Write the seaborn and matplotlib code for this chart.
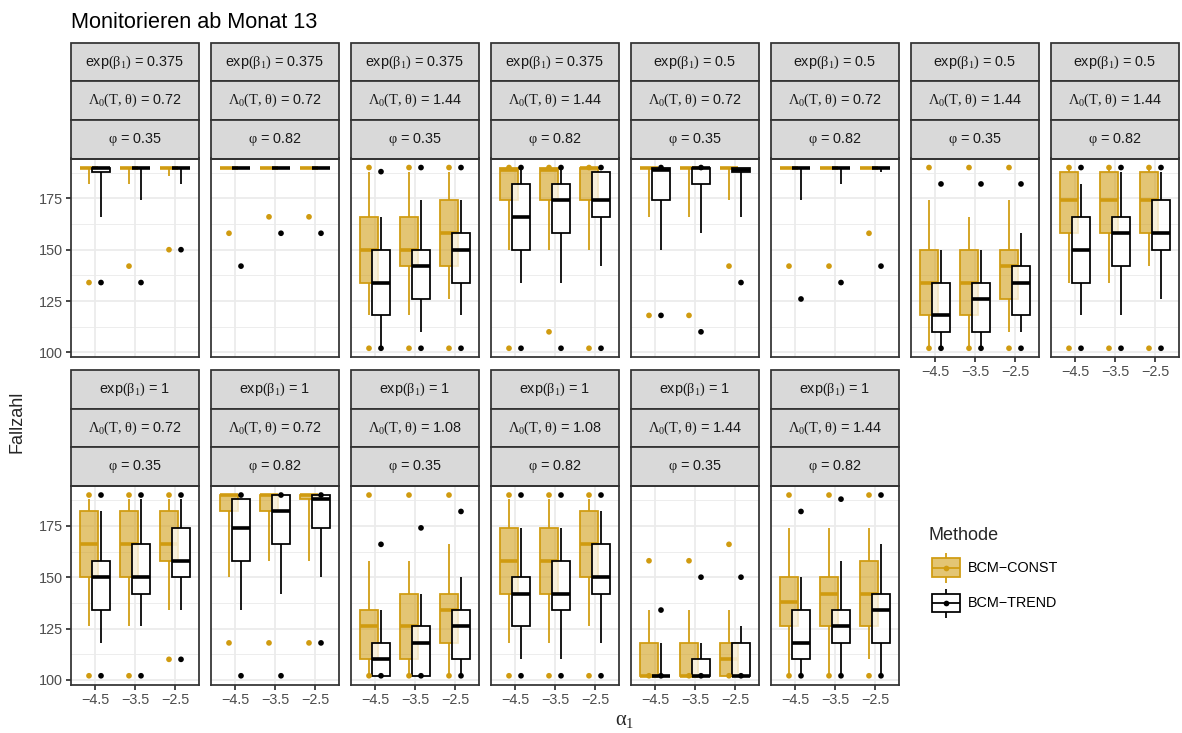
import numpy as np
import pandas as pd
import matplotlib
matplotlib.use("Agg")
import matplotlib.pyplot as plt
from matplotlib.patches import Rectangle
from matplotlib.colors import to_rgba
import seaborn as sns

# ---------------------------------------------------------------- data
ALPHA_LABELS = ["\u22124.5", "\u22123.5", "\u22122.5"]
METHODS = ["BCM\u2212CONST", "BCM\u2212TREND"]

EXP_BETA = ["0.375"] * 4 + ["0.5"] * 4 + ["1"] * 6
LAMBDA0 = ["0.72", "0.72", "1.44", "1.44", "0.72", "0.72", "1.44", "1.44",
           "0.72", "0.72", "1.08", "1.08", "1.44", "1.44"]
PHI = ["0.35", "0.82"] * 7

# box statistics per panel (14) and alpha level (3): lower whisker, Q1, median, Q3, upper whisker
CONST_LO = [[182, 182, 186], [190, 190, 190], [118, 118, 126], [150, 150, 150],
            [166, 166, 174], [190, 190, 190], [103, 103, 110], [134, 134, 142],
            [126, 126, 134], [150, 158, 158], [103, 103, 103], [118, 118, 126],
            [102, 102, 102], [103, 103, 110]]
CONST_Q1 = [[190, 190, 190], [190, 190, 190], [134, 142, 142], [174, 174, 174],
            [190, 190, 190], [190, 190, 190], [118, 118, 126], [158, 158, 158],
            [150, 150, 158], [182, 182, 188], [110, 110, 118], [142, 142, 150],
            [102, 102, 102], [126, 126, 126]]
CONST_MED = [[190, 190, 190], [190, 190, 190], [150, 150, 158], [189, 189, 190],
             [190, 190, 190], [190, 190, 190], [134, 134, 142], [174, 174, 174],
             [166, 166, 166], [190, 190, 190], [126, 126, 134], [158, 158, 166],
             [102, 102, 110], [138, 142, 142]]
CONST_Q3 = [[190, 190, 190], [190, 190, 190], [166, 166, 174], [190, 190, 190],
            [190, 190, 190], [190, 190, 190], [150, 150, 150], [188, 188, 188],
            [182, 182, 182], [190, 190, 190], [134, 142, 142], [174, 174, 182],
            [118, 118, 118], [150, 150, 158]]
CONST_HI = [[190, 190, 190], [190, 190, 190], [188, 188, 188], [190, 190, 190],
            [190, 190, 190], [190, 190, 190], [174, 166, 174], [190, 190, 190],
            [188, 188, 188], [190, 190, 190], [158, 158, 166], [188, 188, 188],
            [134, 134, 134], [174, 174, 174]]
CONST_POINTS = [[[134], [142], [150]], [[158], [166], [166]],
                [[102, 190], [102, 190], [102, 190]], [[102, 190], [110, 190], [102, 190]],
                [[118], [118], [142]], [[142], [142], [158]],
                [[102, 190], [102, 190], [102, 190]], [[102, 190], [102, 190], [102, 190]],
                [[102, 190], [102, 190], [110, 190]], [[118], [118], [118]],
                [[102, 190], [102, 190], [102, 190]], [[102, 190], [102, 190], [102, 190]],
                [[102, 158], [102, 158], [102, 166]], [[102, 190], [102, 190], [102, 190]]]

TREND_LO = [[166, 174, 182], [190, 190, 190], [103, 110, 118], [134, 134, 142],
            [150, 158, 166], [174, 182, 188], [103, 103, 110], [118, 118, 126],
            [118, 126, 134], [134, 142, 150], [102, 102, 103], [110, 110, 118],
            [102, 102, 102], [103, 103, 103]]
TREND_Q1 = [[188, 190, 190], [190, 190, 190], [118, 126, 134], [150, 158, 166],
            [174, 182, 188], [190, 190, 190], [110, 110, 118], [134, 142, 150],
            [134, 142, 150], [158, 166, 174], [102, 102, 110], [126, 134, 142],
            [102, 102, 102], [110, 118, 118]]
TREND_MED = [[190, 190, 190], [190, 190, 190], [134, 142, 150], [166, 174, 174],
             [189, 190, 189], [190, 190, 190], [118, 126, 134], [150, 158, 158],
             [150, 150, 158], [174, 182, 188], [110, 118, 126], [142, 142, 150],
             [102, 102, 102], [118, 126, 134]]
TREND_Q3 = [[190, 190, 190], [190, 190, 190], [150, 150, 158], [182, 182, 188],
            [190, 190, 190], [190, 190, 190], [134, 134, 142], [166, 166, 174],
            [158, 166, 174], [188, 190, 190], [118, 126, 134], [150, 158, 166],
            [102, 110, 118], [134, 134, 142]]
TREND_HI = [[190, 190, 190], [190, 190, 190], [166, 174, 174], [190, 190, 188],
            [190, 190, 190], [190, 190, 190], [150, 150, 158], [182, 188, 188],
            [182, 188, 188], [188, 190, 190], [134, 142, 150], [174, 174, 182],
            [118, 118, 126], [150, 158, 166]]
TREND_POINTS = [[[134], [134], [150]], [[142], [158], [158]],
                [[102, 188], [102, 190], [102, 190]], [[102, 190], [102, 190], [102, 190]],
                [[118, 190], [110, 190], [134]], [[126], [134], [142]],
                [[102, 182], [102, 182], [102, 182]], [[102, 190], [102, 190], [102, 190]],
                [[102, 190], [102, 190], [110, 190]], [[102, 190], [102, 190], [118, 190]],
                [[102, 166], [102, 174], [102, 182]], [[102, 190], [102, 190], [102, 190]],
                [[102, 134], [102, 150], [102, 150]], [[102, 182], [102, 188], [102, 190]]]

# ---------------------------------------------------------------- tidy tables
box_rows, point_rows = [], []
tables = {
    METHODS[0]: (CONST_LO, CONST_Q1, CONST_MED, CONST_Q3, CONST_HI, CONST_POINTS),
    METHODS[1]: (TREND_LO, TREND_Q1, TREND_MED, TREND_Q3, TREND_HI, TREND_POINTS),
}
for method, (lo, q1, med, q3, hi, pts) in tables.items():
    for p in range(len(EXP_BETA)):
        for g, a in enumerate(ALPHA_LABELS):
            box_rows.append(dict(panel=p, alpha=g, method=method, whislo=lo[p][g],
                                 q1=q1[p][g], med=med[p][g], q3=q3[p][g], whishi=hi[p][g]))
            for v in pts[p][g]:
                point_rows.append(dict(panel=p, alpha=g, method=method, value=v))
boxes = pd.DataFrame(box_rows)
points = pd.DataFrame(point_rows)

# ---------------------------------------------------------------- style
sns.set_theme(style="white")
plt.rcParams["font.family"] = ["Liberation Sans", "DejaVu Sans"]
plt.rcParams["mathtext.fontset"] = "custom"
plt.rcParams["mathtext.rm"] = "Liberation Serif"
plt.rcParams["mathtext.it"] = "Liberation Serif:italic"
plt.rcParams["mathtext.bf"] = "Liberation Serif:bold"

GOLD = "#D09B10"
COLORS = {METHODS[0]: GOLD, METHODS[1]: "#000000"}
FILLS = {METHODS[0]: to_rgba(GOLD, 0.58), METHODS[1]: (1, 1, 1, 0.75)}
DODGE = {METHODS[0]: -0.15, METHODS[1]: 0.15}
ZORD = {METHODS[0]: 2, METHODS[1]: 3}
BORDER = "#333333"
GRID = "#EBEBEB"
LW = 1.07
DOT = 12

W, H = 1182, 733
DPI = 118.2
fig = plt.figure(figsize=(W / DPI, H / DPI), dpi=DPI)
fig.patch.set_facecolor("white")

PANEL_W, PANEL_H = 128.0, 198.8
STRIP_H = 38.6
ROW_TOP = [158.5, 486.0]


def strip_labels(p):
    return [r"exp$\mathrm{(\beta_1)}$ = " + EXP_BETA[p],
            r"$\mathrm{\Lambda_0(T,\,\theta)}$ = " + LAMBDA0[p],
            r"$\mathrm{\varphi}$ = " + PHI[p]]


n_panels = len(EXP_BETA)
for p in range(n_panels):
    row, col = divmod(p, 8)
    left = 71 + 140 * col
    top = ROW_TOP[row]
    ax = fig.add_axes([left / W, 1 - (top + PANEL_H) / H, PANEL_W / W, PANEL_H / H])
    ax.set_facecolor("white")
    ax.set_axisbelow(True)

    sub = boxes[boxes.panel == p]
    for _, r in sub.iterrows():
        m = r["method"]
        st = [dict(whislo=r.whislo, q1=r.q1, med=r.med, q3=r.q3, whishi=r.whishi, fliers=[])]
        ax.bxp(st, positions=[r.alpha + DODGE[m]], widths=0.47, patch_artist=True,
               showfliers=False, showcaps=False, manage_ticks=False, zorder=ZORD[m],
               boxprops=dict(facecolor=FILLS[m], edgecolor=COLORS[m], linewidth=LW),
               whiskerprops=dict(color=COLORS[m], linewidth=LW, solid_capstyle="butt"),
               medianprops=dict(color=COLORS[m], linewidth=2.2, solid_capstyle="butt"))

    pts = points[points.panel == p].copy()
    pts["pos"] = pts["alpha"] + pts["method"].map(DODGE)
    sns.scatterplot(data=pts, x="pos", y="value", hue="method", palette=COLORS,
                    s=DOT, linewidth=0, legend=False, ax=ax, zorder=5)

    ax.set_xlim(-0.6, 2.6)
    ax.set_ylim(97.6, 194.4)
    ax.set_xlabel("")
    ax.set_ylabel("")
    ax.set_xticks([0, 1, 2])
    ax.set_xticklabels(ALPHA_LABELS)
    ax.set_yticks([100, 125, 150, 175])
    ax.set_yticks([112.5, 137.5, 162.5, 187.5], minor=True)
    ax.set_xticks([], minor=True)
    ax.grid(which="major", color=GRID, linewidth=LW)
    ax.grid(which="minor", axis="y", color=GRID, linewidth=0.53)
    for s in ax.spines.values():
        s.set_color(BORDER)
        s.set_linewidth(LW)
        s.set_zorder(6)
    ax.tick_params(which="major", length=2.75, width=LW, color=BORDER,
                   labelsize=8.8, labelcolor="#4D4D4D", pad=2.2)
    ax.tick_params(which="minor", length=0)

    show_x = (row == 1) or (col >= n_panels - 8)
    show_y = col == 0
    ax.tick_params(axis="x", bottom=show_x, labelbottom=show_x)
    ax.tick_params(axis="y", left=show_y, labelleft=show_y)

    # stacked facet strips above the panel
    h = STRIP_H / PANEL_H
    labels = strip_labels(p)
    for k, lab in enumerate(labels):
        y0 = 1 + (2 - k) * h
        ax.add_patch(Rectangle((0, y0), 1, h, transform=ax.transAxes, clip_on=False,
                               facecolor="#D9D9D9", edgecolor=BORDER, linewidth=LW,
                               zorder=6))
        ax.text(0.5, y0 + h / 2, lab, transform=ax.transAxes, ha="center", va="center",
                fontsize=8.8, color="#1A1A1A", zorder=7)

# ---------------------------------------------------------------- titles and legend
over = fig.add_axes([0, 0, 1, 1])
over.set_xlim(0, W)
over.set_ylim(H, 0)
over.axis("off")

over.text(70.7, 28.3, "Monitorieren ab Monat 13", fontsize=13.2, ha="left",
          va="baseline", color="black")
over.text(17, 421.7, "Fallzahl", fontsize=11, rotation=90, ha="center", va="center")
over.text(625, 721, r"$\mathrm{\alpha_1}$", fontsize=12.5, ha="center", va="center")

over.text(928, 535, "Methode", fontsize=11, ha="left", va="center")
keys = [(METHODS[0], 558.3, 576.7, 552.7, 582.7),
        (METHODS[1], 594.0, 611.7, 589.3, 618.3)]
for m, b0, b1, w0, w1 in keys:
    cx = 946
    mid = (b0 + b1) / 2
    over.plot([cx, cx], [w0, b0], color=COLORS[m], lw=LW, solid_capstyle="butt")
    over.plot([cx, cx], [b1, w1], color=COLORS[m], lw=LW, solid_capstyle="butt")
    over.add_patch(Rectangle((932, b0), 28, b1 - b0, facecolor=FILLS[m],
                             edgecolor=COLORS[m], linewidth=LW))
    over.plot([932, 960], [mid, mid], color=COLORS[m], lw=LW, solid_capstyle="butt")
    over.scatter([cx], [mid], s=DOT, color=COLORS[m], linewidths=0, zorder=5)
    over.text(968, mid + 0.5, m, fontsize=8.8, ha="left", va="center", color="black")

fig.savefig("out.png", dpi=DPI, facecolor="white")
